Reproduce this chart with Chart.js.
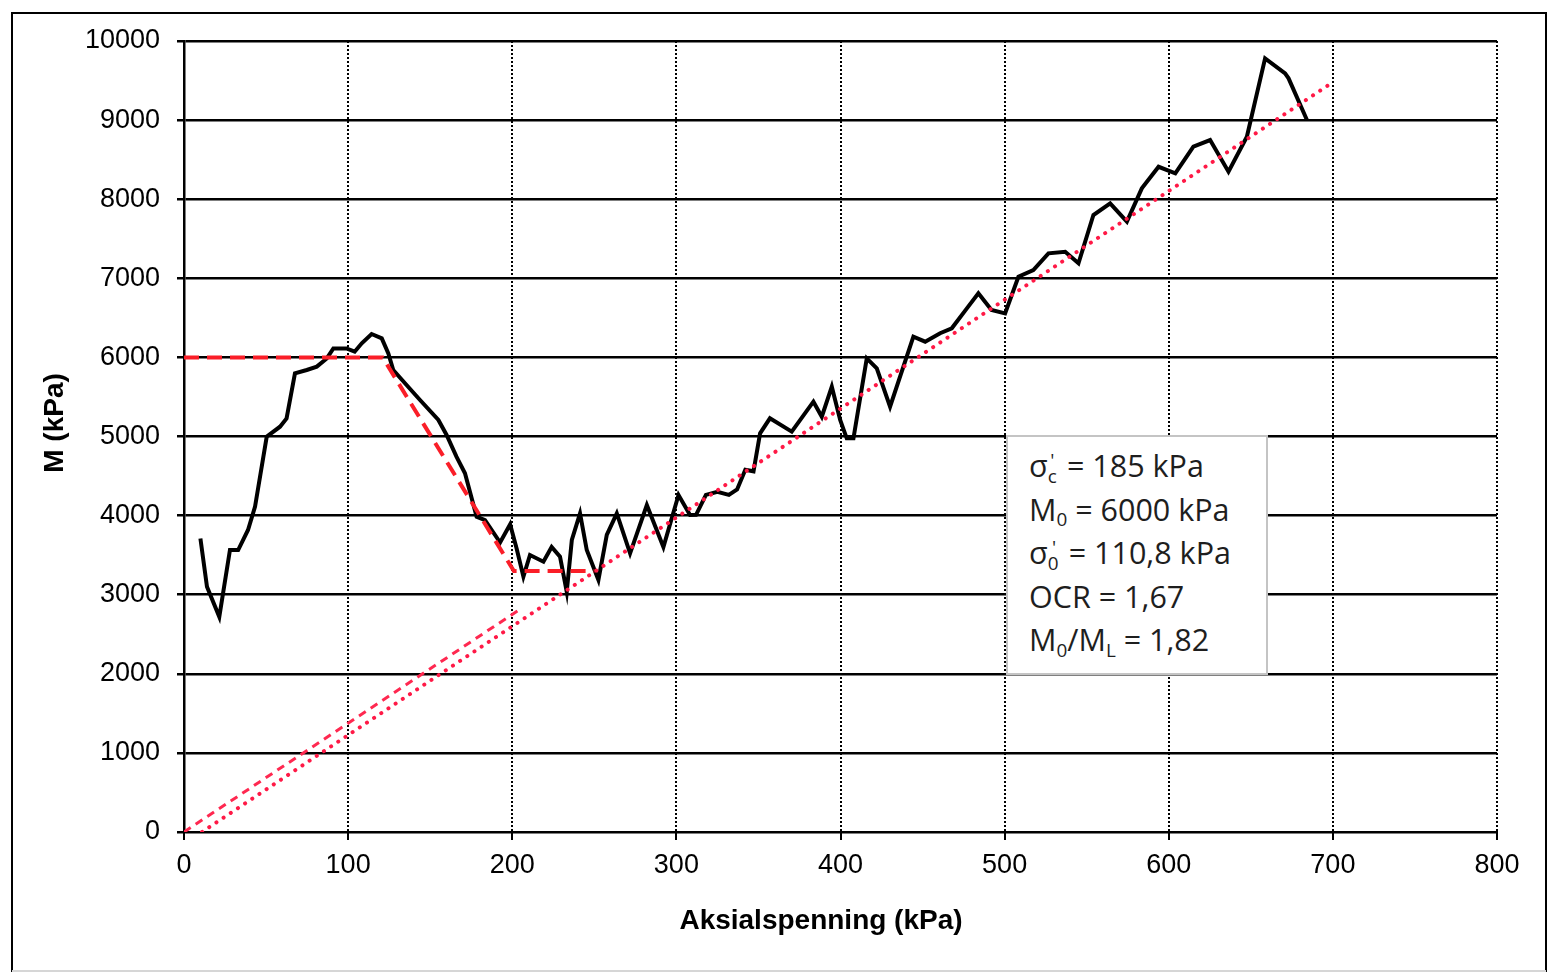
<!DOCTYPE html>
<html>
<head>
<meta charset="utf-8">
<script src="https://cdn.jsdelivr.net/npm/chart.js@4.4.0/dist/chart.umd.min.js"></script>
<style>
  body { margin: 0; background: #fff; }
  #wrap { position: relative; width: 1548px; height: 975px; }
  #info {
    position: absolute; left: 1006px; top: 435px;
    width: 262px; height: 240px; box-sizing: border-box;
    border: 2px solid #c4c4c4; background: #fff;
    padding: 7px 0 0 21px;
    font-family: "Open Sans", sans-serif; font-size: 30.5px; line-height: 43.5px; color: #1e1e1e;
  }
  #info div { height: 43.5px; white-space: nowrap; }
  #info sub { font-size: 0.62em; line-height: 0; position: relative; top: 0.3em; vertical-align: baseline; }
  #info sup { font-size: 0.62em; line-height: 0; position: relative; top: -0.55em; vertical-align: baseline; margin-left: -0.35em; margin-right: 0.25em; }
</style>
</head>
<body>
<div id="wrap">
  <canvas id="chart" width="1548" height="975"></canvas>
  <div id="info">
    <div>σ<sub>c</sub><sup>'</sup> = 185 kPa</div>
    <div>M<sub>0</sub> = 6000 kPa</div>
    <div>σ<sub>0</sub><sup>'</sup> = 110,8 kPa</div>
    <div>OCR = 1,67</div>
    <div>M<sub>0</sub>/M<sub>L</sub> = 1,82</div>
  </div>
</div>
<script>
// measured curve: axial stress (kPa) vs M (kPa)
const curveX = [10, 14, 21.5, 28, 33, 39, 43.3, 50.4, 58.5, 62.5, 67.6, 74.8, 80.9, 87, 91, 99, 104, 108.3, 114.3, 120.5,
  124.5, 127.5, 135.6, 143.8, 155, 160, 166, 171.2, 178.3, 183.4, 192.6, 198.7, 202.7, 206.8, 210.8, 219, 224, 229.1, 233.2, 236.3,
  241.3, 245.4, 252.5, 257.6, 263.7, 271.8, 282, 292.1, 301.3, 308.3, 312, 318, 325, 332, 337, 342, 347, 351, 357, 370.3,
  383.5, 388.6, 394.7, 399.8, 403.8, 407.9, 416, 422.1, 430.2, 444.4, 451.6, 460.7, 467.8, 477, 484, 492, 500.3, 508.4, 517.5, 526.7,
  536.9, 545, 554.1, 564.3, 574.5, 583.6, 593.8, 604, 615, 625.2, 636.4, 647.6, 658.7, 670.9, 673, 684.2];
const curveY = [3710, 3100, 2720, 3565, 3565, 3818, 4113, 4997, 5124, 5228, 5799, 5841, 5883, 5987, 6114, 6114, 6072, 6178, 6296, 6241,
  6051, 5841, 5651, 5461, 5209, 5019, 4745, 4535, 3986, 3944, 3660, 3890, 3580, 3228, 3502, 3417, 3603, 3481, 3038, 3692,
  4029, 3565, 3186, 3755, 4029, 3523, 4134, 3603, 4261, 4008, 4010, 4262, 4300, 4262, 4330, 4580, 4560, 5040, 5230, 5061,
  5440, 5250, 5630, 5209, 4977, 4977, 5988, 5862, 5377, 6262, 6199, 6305, 6368, 6620, 6810, 6599, 6557, 7020, 7105, 7316,
  7336, 7190, 7800, 7948, 7716, 8137, 8410, 8326, 8664, 8748, 8348, 8790, 9781, 9591, 9528, 9001];

// interpreted lines (red)
const kneeX = [0, 121, 201, 250];
const kneeY = [6000, 6000, 3300, 3300];
const originX = [0, 205];
const originY = [0, 2820];
const trendX = [11, 700];
const trendY = [0, 9480];

const xTickLabels = ['0', '100', '200', '300', '400', '500', '600', '700', '800'];
const yTickLabels = ['0', '1000', '2000', '3000', '4000', '5000', '6000', '7000', '8000', '9000', '10000'];

const pts = (xs, ys) => xs.map((x, i) => ({ x: x, y: ys[i] }));

const tickFont = { family: '"Liberation Sans", Arial, sans-serif', size: 27 };

const frame = {
  id: 'frame',
  beforeDraw(chart) {
    const c = chart.ctx;
    c.save();
    c.fillStyle = '#fff';
    c.fillRect(0, 0, chart.width, chart.height);
    c.strokeStyle = '#000';
    c.lineWidth = 2;
    c.beginPath();
    c.moveTo(12, 972); c.lineTo(12, 13); c.lineTo(1546, 13); c.lineTo(1546, 972);
    c.stroke();
    c.strokeStyle = '#d6d6d6';
    c.beginPath();
    c.moveTo(12, 971); c.lineTo(1546, 971);
    c.stroke();
    c.restore();
  },
  afterDraw(chart) {
    const c = chart.ctx;
    c.save();
    c.fillStyle = '#000';
    c.font = 'bold 28px "Liberation Sans", Arial, sans-serif';
    c.textAlign = 'center';
    c.textBaseline = 'middle';
    c.fillText('Aksialspenning (kPa)', 821, 921);
    c.translate(55, 423);
    c.rotate(-Math.PI / 2);
    c.fillText('M (kPa)', 0, 0);
    c.restore();
  }
};

new Chart(document.getElementById('chart'), {
  type: 'scatter',
  data: {
    datasets: [
      {
        data: pts(kneeX, kneeY), showLine: true, borderColor: 'rgb(250,30,40)', borderWidth: 4,
        borderDash: [15, 8], pointRadius: 0, order: 0
      },
      {
        data: pts(originX, originY), showLine: true, borderColor: 'rgb(255,40,80)', borderWidth: 3,
        borderDash: [8, 6], pointRadius: 0, order: 0
      },
      {
        data: pts(trendX, trendY), showLine: true, borderColor: 'rgb(255,25,70)', borderWidth: 4,
        borderDash: [0.1, 8.5], borderCapStyle: 'round', pointRadius: 0, order: 0
      },
      {
        data: pts(curveX, curveY), showLine: true, borderColor: '#000', borderWidth: 4,
        pointRadius: 0, tension: 0, order: 1
      }
    ]
  },
  options: {
    responsive: false,
    animation: false,
    devicePixelRatio: 1,
    layout: { padding: { top: 41, right: 51, left: 0, bottom: 0 } },
    plugins: { legend: { display: false }, tooltip: { enabled: false } },
    scales: {
      x: {
        type: 'linear', min: 0, max: 800,
        afterFit: (s) => { s.height = 143; },
        ticks: { stepSize: 100, color: '#000', font: tickFont, padding: 9, maxRotation: 0,
          callback: (v, i) => xTickLabels[i] },
        grid: { color: '#000', lineWidth: 2, tickLength: 8 },
        border: { color: '#000', width: 2, dash: [2, 2] }
      },
      y: {
        min: 0, max: 10000,
        afterFit: (s) => { s.width = 184; },
        ticks: { stepSize: 1000, color: '#000', font: tickFont, padding: 17,
          callback: (v, i) => yTickLabels[i] },
        grid: { color: '#000', lineWidth: 2.5, tickLength: 7 },
        border: { color: '#000', width: 2.5 }
      }
    }
  },
  plugins: [frame]
});
</script>
</body>
</html>
